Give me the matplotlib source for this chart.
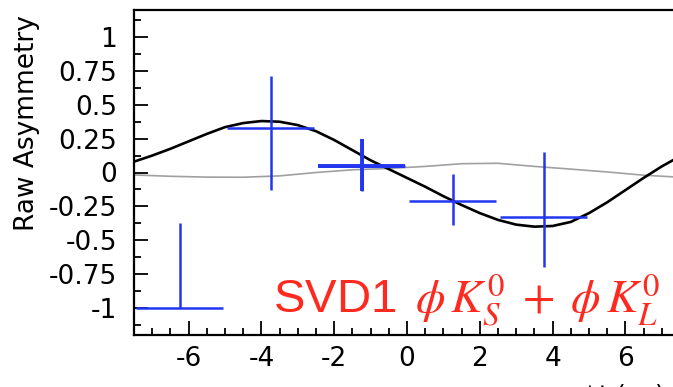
import matplotlib
matplotlib.use("Agg")
import matplotlib.pyplot as plt
from matplotlib.ticker import MultipleLocator, FixedLocator, FixedFormatter

# ---- data ----
bin_centers = [-6.25, -3.75, -1.25, 1.25, 3.75]
bin_halfwidth = [1.2, 1.2, 1.2, 1.2, 1.2]
asym = [-1.0, 0.33, 0.05, -0.21, -0.33]
err_low = [0.0, 0.46, 0.19, 0.18, 0.37]
err_high = [0.63, 0.38, 0.20, 0.20, 0.48]

fit_t = [-7.5, -7.0, -6.5, -6.0, -5.5, -5.0, -4.5, -4.0, -3.5, -3.0, -2.5,
         -2.0, -1.5, -1.0, -0.5, 0.0, 0.5, 1.0, 1.5, 2.0, 2.5, 3.0, 3.5,
         4.0, 4.5, 5.0, 5.5, 6.0, 6.5, 7.0, 7.5]
fit_a = [0.08, 0.125, 0.175, 0.23, 0.285, 0.335, 0.365, 0.38, 0.375, 0.35, 0.305,
         0.24, 0.165, 0.09, 0.025, -0.04, -0.105, -0.175, -0.24, -0.30, -0.35,
         -0.385, -0.40, -0.395, -0.365, -0.30, -0.22, -0.13, -0.04, 0.045, 0.12]

ref_t = [-7.5, -6.5, -5.5, -4.5, -3.5, -2.5, -1.5, -0.5, 0.5, 1.5, 2.5,
         3.5, 4.5, 5.5, 6.5, 7.5]
ref_a = [-0.018, -0.028, -0.034, -0.035, -0.025, 0.0, 0.02, 0.03, 0.045,
         0.065, 0.068, 0.045, 0.025, 0.004, -0.02, -0.035]

y_ticks = [-1, -0.75, -0.5, -0.25, 0, 0.25, 0.5, 0.75, 1]
y_labels = ["-1", "-0.75", "-0.5", "-0.25", "0", "0.25", "0.5", "0.75", "1"]
x_ticks = [-6, -4, -2, 0, 2, 4, 6]
x_labels = ["-6", "-4", "-2", "0", "2", "4", "6"]

plt.rcParams['axes.unicode_minus'] = False
plt.rcParams['font.family'] = ['DejaVu Sans']
plt.rcParams['mathtext.fontset'] = 'stix'

W, H = 673, 387
fig = plt.figure(figsize=(W / 100, H / 100), dpi=100)
left, right, bottom, top = 134, 680, 335, 10
ax = fig.add_axes([left / W, (H - bottom) / H, (right - left) / W, (bottom - top) / H])
ax.set_xlim(-7.5, 7.5)
ax.set_ylim(-1.2, 1.2)

blue = '#2236f0'
ax.plot(ref_t, ref_a, color='#a0a0a0', lw=1.2, zorder=2)
ax.plot(fit_t, fit_a, color='black', lw=1.9, zorder=3, solid_joinstyle='round')
ax.errorbar(bin_centers, asym, xerr=bin_halfwidth, yerr=[err_low, err_high],
            fmt='none', ecolor=blue, elinewidth=1.8, capsize=0, zorder=4)
# the third point is drawn with a heavier stroke in the reference
ax.errorbar([bin_centers[2]], [asym[2]], xerr=[bin_halfwidth[2]],
            yerr=[[err_low[2]], [err_high[2]]],
            fmt='none', ecolor=blue, elinewidth=2.8, capsize=0, zorder=4)

for s in ['left', 'bottom', 'top', 'right']:
    ax.spines[s].set_linewidth(1.6)

ax.yaxis.set_major_locator(FixedLocator(y_ticks))
ax.yaxis.set_major_formatter(FixedFormatter(y_labels))
ax.yaxis.set_minor_locator(MultipleLocator(0.125))
ax.xaxis.set_major_locator(FixedLocator(x_ticks))
ax.xaxis.set_major_formatter(FixedFormatter(x_labels))
ax.xaxis.set_minor_locator(MultipleLocator(0.5))

ax.tick_params(axis='both', which='both', direction='in', top=False, right=False,
               width=1.3, labelsize=19)
ax.tick_params(axis='both', which='major', length=10)
ax.tick_params(axis='both', which='minor', length=5)
ax.tick_params(axis='y', which='major', pad=12)
ax.tick_params(axis='x', which='major', pad=8)

fig.text(27 / W, (H - 123) / H, 'Raw Asymmetry', rotation=90, fontsize=19,
         ha='center', va='center')
fig.text(580 / W, (H - 382) / H, r'$\Delta$t (ps)', fontsize=18, ha='left', va='top',
         family='DejaVu Sans')
fig.text(273 / W, (H - 313) / H, r'SVD1 $\,\phi\, K_S^0\;+\;\phi\, K_L^0$', color='#ff2a1f',
         fontsize=34, ha='left', va='baseline', family='Liberation Sans')

fig.savefig('out.png', dpi=100)
